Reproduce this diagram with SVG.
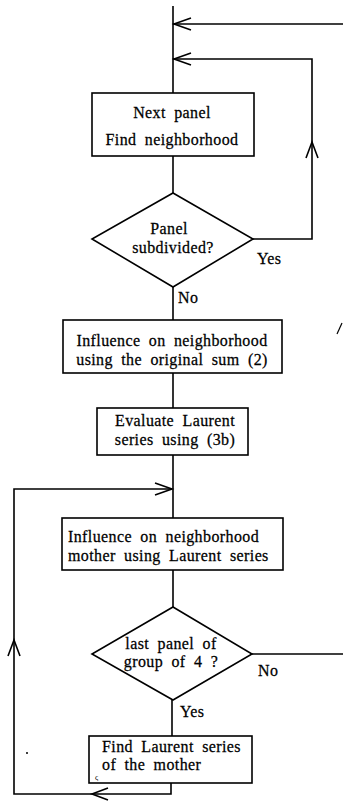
<svg xmlns="http://www.w3.org/2000/svg" width="343" height="801" viewBox="0 0 343 801">
<style>
  .ln{fill:none;stroke:#000;stroke-width:1.6;stroke-linejoin:miter}
  .ah{fill:none;stroke:#000;stroke-width:1.6}
  .box{fill:#fff;stroke:#000;stroke-width:1.6}
  text{font-family:"Liberation Serif","Times New Roman",serif;font-size:16px;fill:#000;stroke:#000;stroke-width:0.25;letter-spacing:0.4px;word-spacing:4px}
  .c{text-anchor:middle}
</style>
<rect width="343" height="801" fill="#fff"/>
<g id="connectors">
  <path class="ln" d="M173,6 V93"/>
  <path class="ln" d="M343,24 H173"/>
  <path class="ah" d="M191,18 L174,24 L191,30"/>
  <path class="ln" d="M253,239 H312 V59 H173"/>
  <path class="ah" d="M191,53 L174,59 L191,65"/>
  <path class="ah" d="M306,158 L312,142 L318,158"/>
  <path class="ln" d="M173,156 V193"/>
  <path class="ln" d="M173,286 V320"/>
  <path class="ln" d="M173,373 V408"/>
  <path class="ln" d="M173,455 V518"/>
  <path class="ln" d="M173,570 V607"/>
  <path class="ln" d="M172,700 V736"/>
  <path class="ln" d="M252,654 H343"/>
  <path class="ln" d="M171,783 V794 H14 V489 H172"/>
  <path class="ah" d="M155,483 L172,489 L155,495"/>
  <path class="ah" d="M108,788 L92,794 L108,800"/>
  <path class="ah" d="M8,656 L14,640 L20,656"/>
</g>
<g id="next-panel">
  <rect class="box" x="92" y="93" width="162" height="63"/>
  <text class="c" transform="translate(172 118) scale(1 1.1)">Next panel</text>
  <text class="c" transform="translate(172 145) scale(1 1.1)">Find neighborhood</text>
</g>
<g id="panel-subdivided">
  <polygon class="box" points="173,193 253,239 173,287 92,239"/>
  <text class="c" transform="translate(169 234) scale(1 1.1)">Panel</text>
  <text class="c" transform="translate(173 253) scale(1 1.1)">subdivided?</text>
  <text transform="translate(257 264) scale(1 1.1)">Yes</text>
  <text transform="translate(178 303) scale(1 1.1)">No</text>
</g>
<g id="influence-original">
  <rect class="box" x="63" y="320" width="219" height="53"/>
  <text class="c" transform="translate(172 346) scale(1 1.1)">Influence on neighborhood</text>
  <text class="c" transform="translate(172 365) scale(1 1.1)">using the original sum (2)</text>
</g>
<g id="evaluate-laurent">
  <rect class="box" x="97" y="408" width="151" height="47"/>
  <text class="c" transform="translate(175 426) scale(1 1.1)">Evaluate Laurent</text>
  <text class="c" transform="translate(175 445) scale(1 1.1)">series using (3b)</text>
</g>
<g id="influence-mother">
  <rect class="box" x="62" y="518" width="221" height="52"/>
  <text transform="translate(68 542) scale(1 1.1)">Influence on neighborhood</text>
  <text transform="translate(68 561) scale(1 1.1)">mother using Laurent series</text>
</g>
<g id="last-panel">
  <polygon class="box" points="173,607 252,654 173,700 92,654"/>
  <text class="c" transform="translate(171 649) scale(1 1.1)">last panel of</text>
  <text class="c" transform="translate(171 667) scale(1 1.1)">group of 4 ?</text>
  <text transform="translate(258 676) scale(1 1.1)">No</text>
  <text transform="translate(180 717) scale(1 1.1)">Yes</text>
</g>
<g id="find-laurent-mother">
  <rect class="box" x="89" y="736" width="163" height="47"/>
  <text transform="translate(102 752) scale(1 1.1)">Find Laurent series</text>
  <text transform="translate(102 770) scale(1 1.1)">of the mother</text>
  <text x="95" y="780" style="font-size:8px;stroke-width:0">ς</text>
</g>
<g id="marks">
  <path class="ln" d="M342,323 L337,334" style="stroke-width:1.2"/>
  <circle cx="27" cy="753" r="1" fill="#000"/>
</g>
</svg>
